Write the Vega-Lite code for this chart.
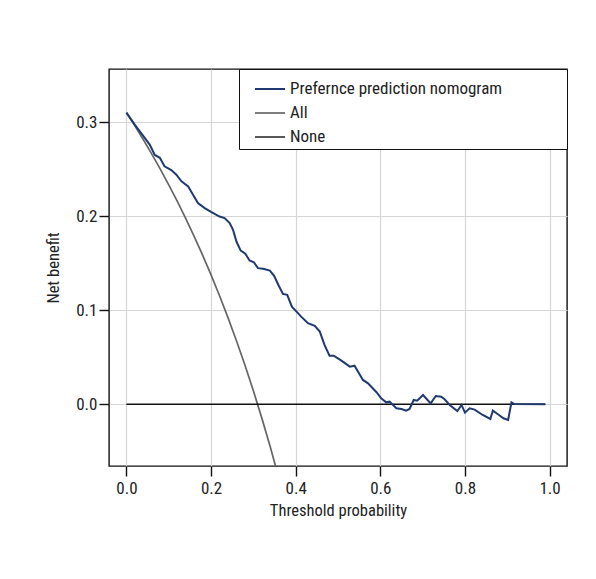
{
  "$schema": "https://vega.github.io/schema/vega-lite/v6.json",
  "autosize": {"type": "none"},
  "width": 458,
  "height": 397,
  "padding": {"left": 109, "top": 69, "right": 29, "bottom": 113},
  "background": "white",
  "datasets": {
    "curves": [
      {"series": "All", "pt": 0.00, "nb": 0.31},
      {"series": "All", "pt": 0.02, "nb": 0.29592},
      {"series": "All", "pt": 0.04, "nb": 0.28125},
      {"series": "All", "pt": 0.06, "nb": 0.26596},
      {"series": "All", "pt": 0.08, "nb": 0.25},
      {"series": "All", "pt": 0.10, "nb": 0.23333},
      {"series": "All", "pt": 0.12, "nb": 0.21591},
      {"series": "All", "pt": 0.14, "nb": 0.19767},
      {"series": "All", "pt": 0.16, "nb": 0.17857},
      {"series": "All", "pt": 0.18, "nb": 0.15854},
      {"series": "All", "pt": 0.20, "nb": 0.1375},
      {"series": "All", "pt": 0.22, "nb": 0.11538},
      {"series": "All", "pt": 0.24, "nb": 0.09211},
      {"series": "All", "pt": 0.26, "nb": 0.06757},
      {"series": "All", "pt": 0.28, "nb": 0.04167},
      {"series": "All", "pt": 0.30, "nb": 0.01429},
      {"series": "All", "pt": 0.32, "nb": -0.01471},
      {"series": "All", "pt": 0.34, "nb": -0.04545},
      {"series": "All", "pt": 0.36, "nb": -0.07813},
      {"series": "None", "pt": 0.0, "nb": 0.0},
      {"series": "None", "pt": 0.99, "nb": 0.0},
      {"series": "Prefernce prediction nomogram", "pt": 0.000, "nb": 0.310},
      {"series": "Prefernce prediction nomogram", "pt": 0.020, "nb": 0.297},
      {"series": "Prefernce prediction nomogram", "pt": 0.040, "nb": 0.285},
      {"series": "Prefernce prediction nomogram", "pt": 0.055, "nb": 0.276},
      {"series": "Prefernce prediction nomogram", "pt": 0.067, "nb": 0.265},
      {"series": "Prefernce prediction nomogram", "pt": 0.079, "nb": 0.262},
      {"series": "Prefernce prediction nomogram", "pt": 0.090, "nb": 0.253},
      {"series": "Prefernce prediction nomogram", "pt": 0.106, "nb": 0.249},
      {"series": "Prefernce prediction nomogram", "pt": 0.118, "nb": 0.244},
      {"series": "Prefernce prediction nomogram", "pt": 0.130, "nb": 0.237},
      {"series": "Prefernce prediction nomogram", "pt": 0.146, "nb": 0.2315},
      {"series": "Prefernce prediction nomogram", "pt": 0.157, "nb": 0.223},
      {"series": "Prefernce prediction nomogram", "pt": 0.169, "nb": 0.214},
      {"series": "Prefernce prediction nomogram", "pt": 0.185, "nb": 0.2085},
      {"series": "Prefernce prediction nomogram", "pt": 0.200, "nb": 0.2045},
      {"series": "Prefernce prediction nomogram", "pt": 0.220, "nb": 0.1996},
      {"series": "Prefernce prediction nomogram", "pt": 0.232, "nb": 0.198},
      {"series": "Prefernce prediction nomogram", "pt": 0.244, "nb": 0.1926},
      {"series": "Prefernce prediction nomogram", "pt": 0.252, "nb": 0.1854},
      {"series": "Prefernce prediction nomogram", "pt": 0.260, "nb": 0.173},
      {"series": "Prefernce prediction nomogram", "pt": 0.270, "nb": 0.1634},
      {"series": "Prefernce prediction nomogram", "pt": 0.281, "nb": 0.160},
      {"series": "Prefernce prediction nomogram", "pt": 0.291, "nb": 0.1528},
      {"series": "Prefernce prediction nomogram", "pt": 0.301, "nb": 0.151},
      {"series": "Prefernce prediction nomogram", "pt": 0.311, "nb": 0.1447},
      {"series": "Prefernce prediction nomogram", "pt": 0.323, "nb": 0.144},
      {"series": "Prefernce prediction nomogram", "pt": 0.339, "nb": 0.1421},
      {"series": "Prefernce prediction nomogram", "pt": 0.349, "nb": 0.1365},
      {"series": "Prefernce prediction nomogram", "pt": 0.360, "nb": 0.126},
      {"series": "Prefernce prediction nomogram", "pt": 0.370, "nb": 0.1173},
      {"series": "Prefernce prediction nomogram", "pt": 0.380, "nb": 0.1163},
      {"series": "Prefernce prediction nomogram", "pt": 0.391, "nb": 0.1038},
      {"series": "Prefernce prediction nomogram", "pt": 0.402, "nb": 0.0985},
      {"series": "Prefernce prediction nomogram", "pt": 0.413, "nb": 0.0932},
      {"series": "Prefernce prediction nomogram", "pt": 0.429, "nb": 0.0862},
      {"series": "Prefernce prediction nomogram", "pt": 0.445, "nb": 0.0833},
      {"series": "Prefernce prediction nomogram", "pt": 0.457, "nb": 0.0773},
      {"series": "Prefernce prediction nomogram", "pt": 0.468, "nb": 0.0631},
      {"series": "Prefernce prediction nomogram", "pt": 0.480, "nb": 0.0517},
      {"series": "Prefernce prediction nomogram", "pt": 0.490, "nb": 0.0517},
      {"series": "Prefernce prediction nomogram", "pt": 0.508, "nb": 0.0464},
      {"series": "Prefernce prediction nomogram", "pt": 0.528, "nb": 0.040},
      {"series": "Prefernce prediction nomogram", "pt": 0.539, "nb": 0.041},
      {"series": "Prefernce prediction nomogram", "pt": 0.559, "nb": 0.0259},
      {"series": "Prefernce prediction nomogram", "pt": 0.571, "nb": 0.0223},
      {"series": "Prefernce prediction nomogram", "pt": 0.591, "nb": 0.0128},
      {"series": "Prefernce prediction nomogram", "pt": 0.602, "nb": 0.0064},
      {"series": "Prefernce prediction nomogram", "pt": 0.614, "nb": 0.0021},
      {"series": "Prefernce prediction nomogram", "pt": 0.622, "nb": 0.0028},
      {"series": "Prefernce prediction nomogram", "pt": 0.638, "nb": -0.0043},
      {"series": "Prefernce prediction nomogram", "pt": 0.650, "nb": -0.005},
      {"series": "Prefernce prediction nomogram", "pt": 0.661, "nb": -0.0068},
      {"series": "Prefernce prediction nomogram", "pt": 0.669, "nb": -0.005},
      {"series": "Prefernce prediction nomogram", "pt": 0.679, "nb": 0.0046},
      {"series": "Prefernce prediction nomogram", "pt": 0.687, "nb": 0.0038},
      {"series": "Prefernce prediction nomogram", "pt": 0.701, "nb": 0.0099},
      {"series": "Prefernce prediction nomogram", "pt": 0.719, "nb": 0.001},
      {"series": "Prefernce prediction nomogram", "pt": 0.731, "nb": 0.0088},
      {"series": "Prefernce prediction nomogram", "pt": 0.744, "nb": 0.0081},
      {"series": "Prefernce prediction nomogram", "pt": 0.752, "nb": 0.0053},
      {"series": "Prefernce prediction nomogram", "pt": 0.764, "nb": -0.0007},
      {"series": "Prefernce prediction nomogram", "pt": 0.782, "nb": -0.0071},
      {"series": "Prefernce prediction nomogram", "pt": 0.792, "nb": -0.0007},
      {"series": "Prefernce prediction nomogram", "pt": 0.800, "nb": -0.0089},
      {"series": "Prefernce prediction nomogram", "pt": 0.811, "nb": -0.0043},
      {"series": "Prefernce prediction nomogram", "pt": 0.823, "nb": -0.0057},
      {"series": "Prefernce prediction nomogram", "pt": 0.842, "nb": -0.0114},
      {"series": "Prefernce prediction nomogram", "pt": 0.860, "nb": -0.0156},
      {"series": "Prefernce prediction nomogram", "pt": 0.866, "nb": -0.0068},
      {"series": "Prefernce prediction nomogram", "pt": 0.878, "nb": -0.0106},
      {"series": "Prefernce prediction nomogram", "pt": 0.891, "nb": -0.0149},
      {"series": "Prefernce prediction nomogram", "pt": 0.902, "nb": -0.0167},
      {"series": "Prefernce prediction nomogram", "pt": 0.910, "nb": 0.0021},
      {"series": "Prefernce prediction nomogram", "pt": 0.917, "nb": 0.0003},
      {"series": "Prefernce prediction nomogram", "pt": 0.990, "nb": 0.0}
    ]
  },
  "data": {"name": "curves"},
  "mark": {"type": "line", "clip": true, "interpolate": "linear"},
  "encoding": {
    "x": {
      "field": "pt", "type": "quantitative",
      "title": "Threshold probability",
      "scale": {"domain": [-0.0412, 1.0412], "nice": false, "zero": false},
      "axis": {"values": [0, 0.2, 0.4, 0.6, 0.8, 1.0], "format": ".1f", "titlePadding": 6, "labelPadding": 4}
    },
    "y": {
      "field": "nb", "type": "quantitative",
      "title": "Net benefit",
      "scale": {"domain": [-0.0656, 0.3564], "nice": false, "zero": false},
      "axis": {"values": [0, 0.1, 0.2, 0.3], "format": ".1f", "titlePadding": 14, "labelPadding": 2}
    },
    "color": {
      "field": "series", "type": "nominal",
      "scale": {"domain": ["Prefernce prediction nomogram", "All", "None"], "range": ["#1f3a70", "#666666", "#111111"]},
      "legend": {"title": " ", "titleOrient": "right", "titlePadding": 61, "labelLimit": 400}
    },
    "strokeWidth": {
      "field": "series", "type": "nominal",
      "scale": {"domain": ["Prefernce prediction nomogram", "All", "None"], "range": [2, 1.4, 1.6]},
      "legend": null
    }
  },
  "config": {
    "font": "Roboto Condensed",
    "view": {"stroke": "#111111", "strokeWidth": 1.4},
    "axis": {
      "domain": false,
      "grid": true,
      "gridColor": "#d6d6d6",
      "gridWidth": 1.2,
      "tickColor": "#111111",
      "tickSize": 10,
      "tickWidth": 1.4,
      "labelFont": "Roboto Condensed",
      "labelFontSize": 17,
      "labelColor": "#222222",
      "titleFont": "Roboto Condensed",
      "titleFontSize": 16.5,
      "titleFontWeight": "normal",
      "titleColor": "#222222"
    },
    "legend": {
      "orient": "top-right",
      "offset": 0,
      "strokeColor": "#111111",
      "fillColor": "white",
      "padding": 4,
      "labelFont": "Roboto Condensed",
      "labelFontSize": 17,
      "labelColor": "#222222",
      "symbolType": "stroke",
      "symbolSize": 900,
      "symbolStrokeWidth": 1.6,
      "symbolOffset": 11,
      "labelOffset": 4,
      "rowPadding": 0,
      "titleFontSize": 4
    }
  }
}
